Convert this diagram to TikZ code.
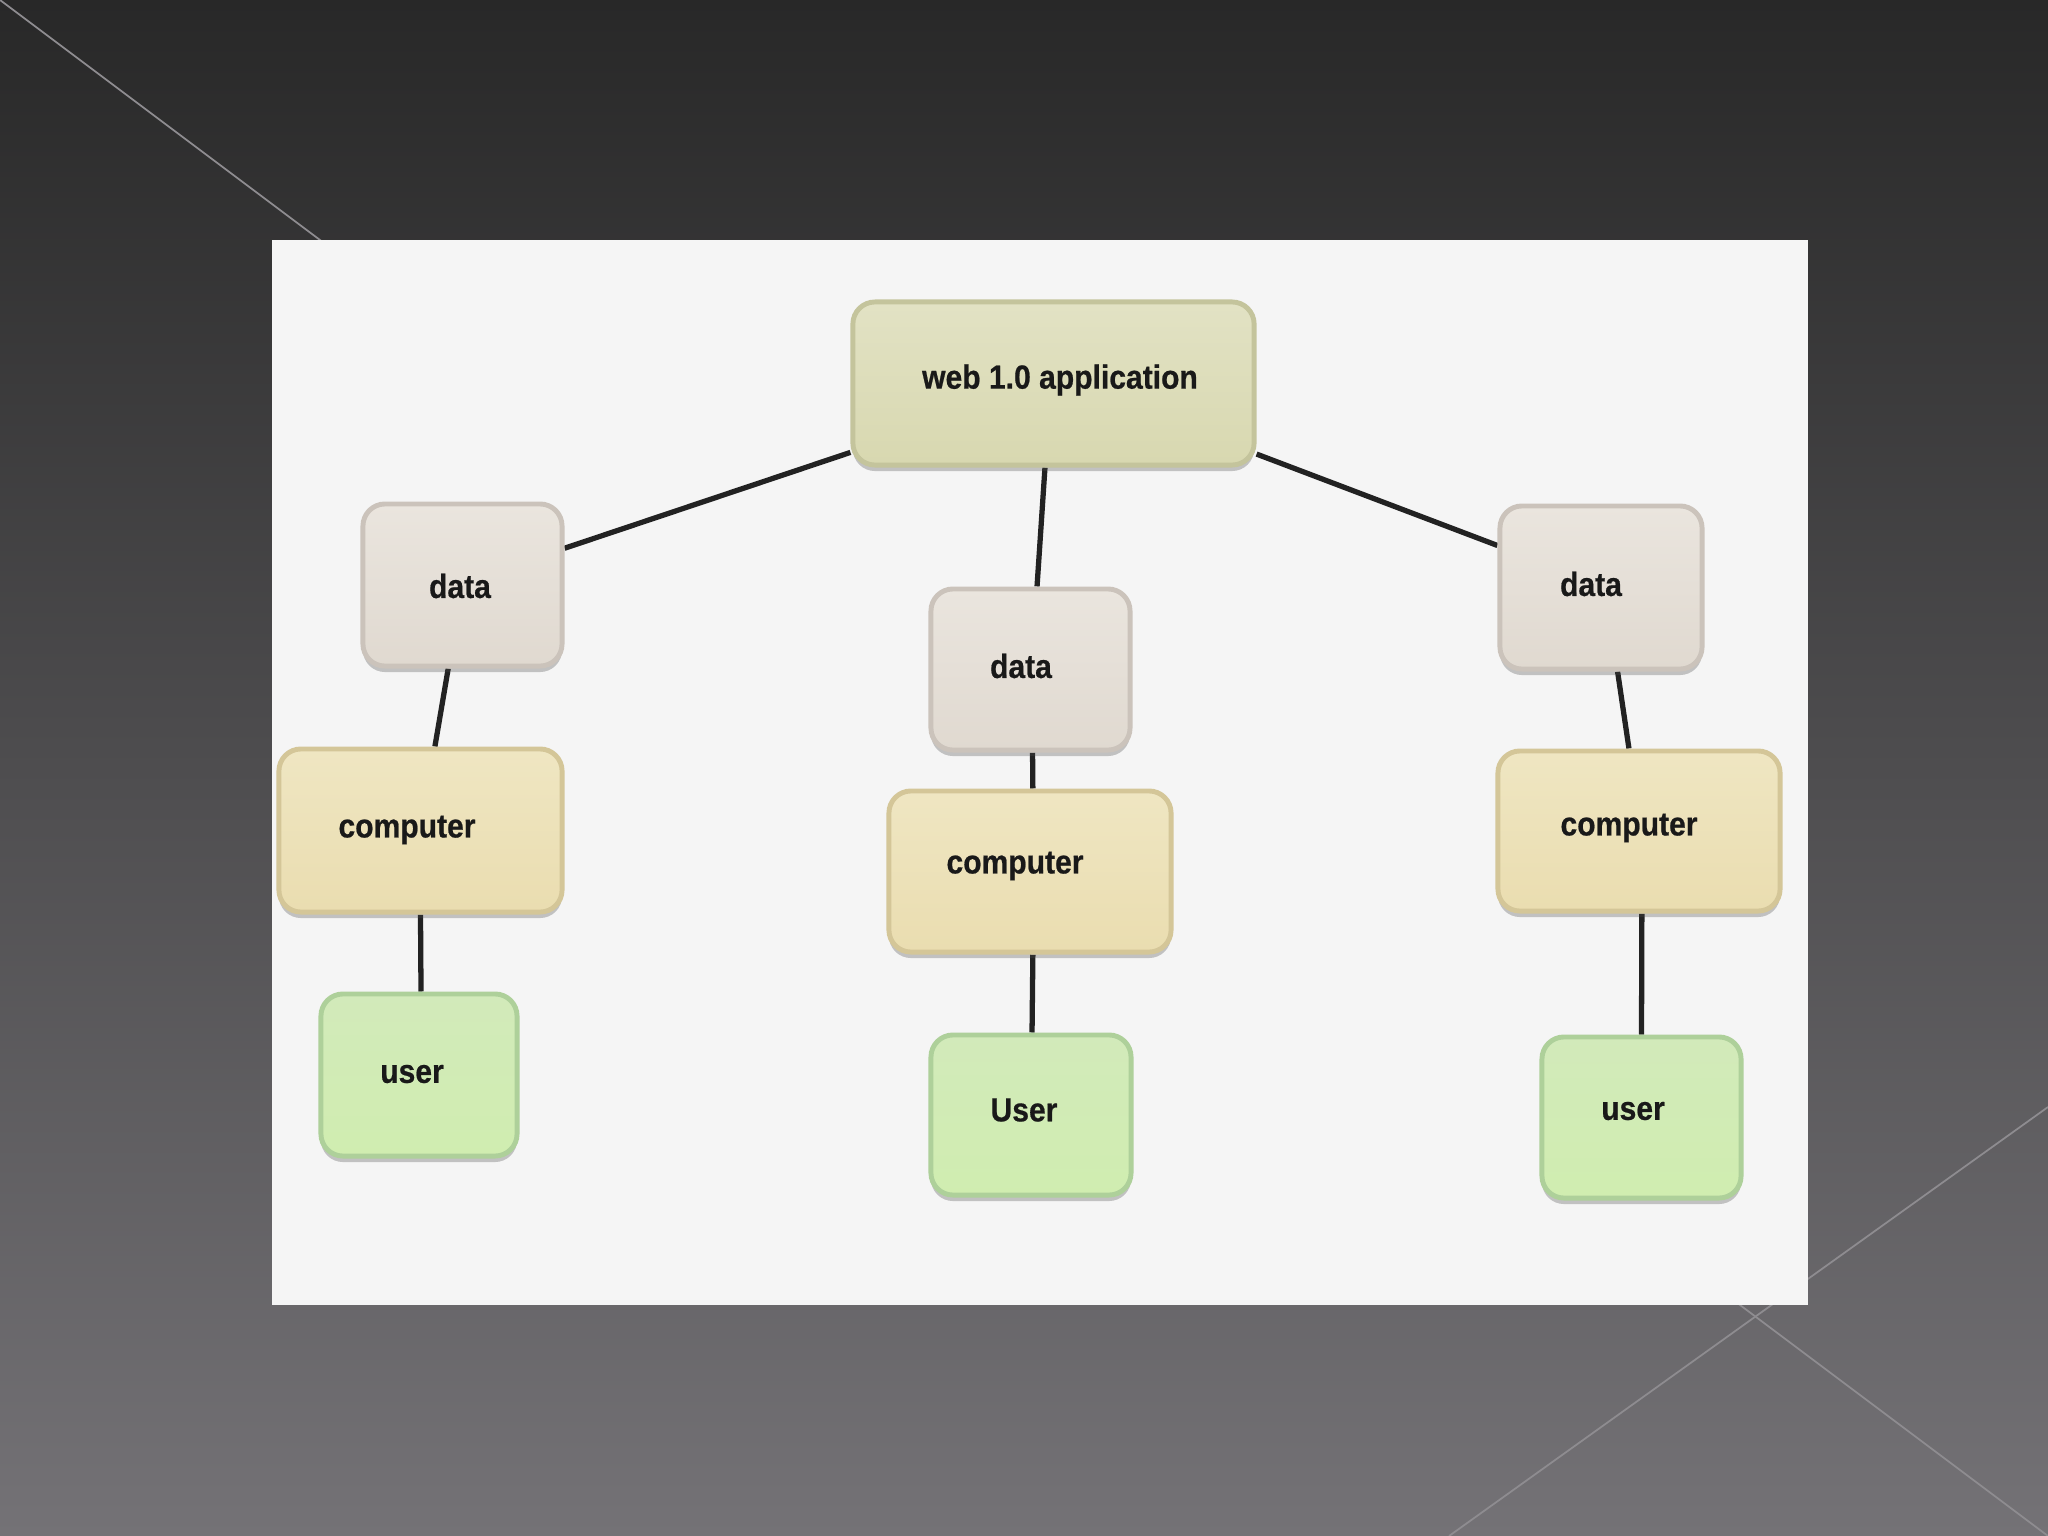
\documentclass[tikz,border=0pt]{standalone}
\usepackage{fontspec}
\newfontfamily\lblfont{Liberation Sans}[FakeStretch=0.9, BoldFeatures={FakeBold=0.6}]
\usetikzlibrary{calc,shadows}
\pgfdeclarelayer{bg}
\pgfsetlayers{bg,main}
\definecolor{bgtop}{HTML}{282828}
\definecolor{bgbot}{HTML}{747276}
\definecolor{diag}{HTML}{8E8C90}
\definecolor{panel}{HTML}{F5F5F5}
\definecolor{linkc}{HTML}{222222}
\definecolor{webB}{HTML}{C4C49C}
\definecolor{webT}{HTML}{E2E2C4}
\definecolor{webBot}{HTML}{D8D8B0}
\definecolor{dataB}{HTML}{CBC3BB}
\definecolor{dataT}{HTML}{EAE5DE}
\definecolor{dataBot}{HTML}{E0D9D0}
\definecolor{compB}{HTML}{D4C698}
\definecolor{compT}{HTML}{EFE6C2}
\definecolor{compBot}{HTML}{EADDB0}
\definecolor{userB}{HTML}{AED09A}
\definecolor{userT}{HTML}{D2EABA}
\definecolor{userBot}{HTML}{D0EDB0}
\begin{document}
\begin{tikzpicture}[x=0.01cm,y=-0.01cm,
  box/.style={rounded corners=0.22cm, inner sep=0pt, line width=1.4pt,
    drop shadow={shadow xshift=0cm, shadow yshift=-0.06cm, opacity=0.3, fill=black!70}},
  webbox/.style={box, draw=webB, top color=webT, bottom color=webBot},
  databox/.style={box, draw=dataB, top color=dataT, bottom color=dataBot},
  compbox/.style={box, draw=compB, top color=compT, bottom color=compBot},
  userbox/.style={box, draw=userB, top color=userT, bottom color=userBot},
  lbl/.style={inner sep=0pt, text=black!90, font=\lblfont\bfseries\fontsize{9.5}{11}\selectfont},
  link/.style={draw=linkc, line width=1.5pt},
  diagline/.style={draw=diag, line width=0.5pt}
]
\useasboundingbox (0,0) rectangle (2048,1536);
\begin{pgfonlayer}{bg}
  \shade[top color=bgtop, bottom color=bgbot] (0,0) rectangle (2048,1536);
  \coordinate (d1a) at (0,0);
  \coordinate (d1b) at (2048,1536);
  \coordinate (d2a) at (2048,1107);
  \coordinate (d2b) at (1449,1536);
  \draw[diagline] (d1a) -- (d1b);
  \draw[diagline] (d2a) -- (d2b);
  \fill[panel] (272,240) rectangle (1808,1305);
\end{pgfonlayer}

% boxes
\node[webbox, minimum width=4.01cm, minimum height=1.63cm] (web) at (1053.5,383.5) {};
\node[databox, minimum width=1.99cm, minimum height=1.62cm] (dL) at (462.5,585) {};
\node[compbox, minimum width=2.83cm, minimum height=1.63cm] (cL) at (420.5,830.5) {};
\node[userbox, minimum width=1.96cm, minimum height=1.62cm] (uL) at (419,1075) {};
\node[databox, minimum width=1.99cm, minimum height=1.61cm] (dC) at (1030.5,669.5) {};
\node[compbox, minimum width=2.82cm, minimum height=1.61cm] (cC) at (1030,871.5) {};
\node[userbox, minimum width=2.00cm, minimum height=1.60cm] (uC) at (1031,1115) {};
\node[databox, minimum width=2.02cm, minimum height=1.63cm] (dR) at (1601,587.5) {};
\node[compbox, minimum width=2.82cm, minimum height=1.60cm] (cR) at (1639,831) {};
\node[userbox, minimum width=1.99cm, minimum height=1.61cm] (uR) at (1641.5,1117.5) {};

% labels
\node[lbl] (tweb) at (1060,380) {web 1.0 application};
\node[lbl] (tdL) at (460,586) {data};
\node[lbl] (tcL) at (407,830) {computer};
\node[lbl] (tuL) at (412,1074) {user};
\node[lbl] (tdC) at (1021,666) {data};
\node[lbl] (tcC) at (1015,866) {computer};
\node[lbl] (tuC) at (1024,1110) {User};
\node[lbl] (tdR) at (1591,584) {data};
\node[lbl] (tcR) at (1629,828) {computer};
\node[lbl] (tuR) at (1633,1111) {user};

% connectors
\begin{pgfonlayer}{bg}
  \draw[link] ($(web.north west)!0.91!(web.south west)$) -- ($(dL.north east)!0.28!(dL.south east)$);
  \draw[link] ($(web.south west)!0.479!(web.south east)$) -- ($(dC.north west)!0.532!(dC.north east)$);
  \draw[link] ($(web.north east)!0.92!(web.south east)$) -- ($(dR.north west)!0.25!(dR.south west)$);
  \draw[link] ($(dL.south west)!0.43!(dL.south east)$) -- ($(cL.north west)!0.55!(cL.north east)$);
  \draw[link] ($(cL.south west)!0.50!(cL.south east)$) -- ($(uL.north west)!0.51!(uL.north east)$);
  \draw[link] ($(dC.south west)!0.51!(dC.south east)$) -- ($(cC.north west)!0.51!(cC.north east)$);
  \draw[link] ($(cC.south west)!0.51!(cC.south east)$) -- ($(uC.north west)!0.505!(uC.north east)$);
  \draw[link] ($(dR.south west)!0.58!(dR.south east)$) -- ($(cR.north west)!0.465!(cR.north east)$);
  \draw[link] ($(cR.south west)!0.51!(cR.south east)$) -- ($(uR.north west)!0.50!(uR.north east)$);
\end{pgfonlayer}
\end{tikzpicture}
\end{document}
